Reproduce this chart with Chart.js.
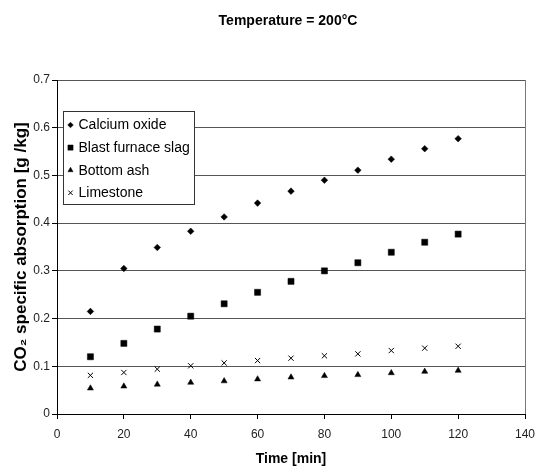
<!DOCTYPE html>
<html>
<head>
<meta charset="utf-8">
<script src="https://cdn.jsdelivr.net/npm/chart.js@4/dist/chart.umd.min.js"></script>
<style>
  html, body { margin: 0; padding: 0; background: #fff; }
  #wrap { width: 536px; height: 470px; }
</style>
</head>
<body>
<div id="wrap"><canvas id="chart"></canvas></div>
<script>
// time in minutes
const times = [10, 20, 30, 40, 50, 60, 70, 80, 90, 100, 110, 120];

// CO2 specific absorption [g/kg]
const calciumOxide = [0.215, 0.305, 0.349, 0.383, 0.413, 0.442, 0.467, 0.490, 0.511, 0.534, 0.556, 0.577];
const blastFurnaceSlag = [0.120, 0.148, 0.178, 0.205, 0.231, 0.255, 0.278, 0.300, 0.317, 0.339, 0.360, 0.377];
const bottomAsh = [0.054, 0.058, 0.062, 0.066, 0.069, 0.073, 0.077, 0.080, 0.082, 0.086, 0.089, 0.091];
const limestone = [0.081, 0.087, 0.094, 0.101, 0.107, 0.112, 0.117, 0.122, 0.126, 0.133, 0.138, 0.142];

const seriesNames = ['Calcium oxide', 'Blast furnace slag', 'Bottom ash', 'Limestone'];
const yTickLabels = ['0', '0.1', '0.2', '0.3', '0.4', '0.5', '0.6', '0.7'];
const xTickLabels = ['0', '20', '40', '60', '80', '100', '120', '140'];

const FONT = 'Arial, "Liberation Sans", sans-serif';

function pts(ys) {
  return times.map((t, i) => ({ x: t, y: ys[i] }));
}

const markers = [
  { style: 'rectRot', r: 3.3 },
  { style: 'rect', r: 4.3 },
  { style: 'triangle', r: 3.5 },
  { style: 'crossRot', r: 3.7 }
];

function makeSet(i, ys) {
  return {
    label: seriesNames[i],
    data: pts(ys),
    pointStyle: markers[i].style,
    pointRadius: markers[i].r,
    pointHoverRadius: markers[i].r,
    backgroundColor: '#000',
    borderColor: '#000',
    borderWidth: i === 3 ? 1 : 0.5,
    showLine: false
  };
}

// title + boxed legend inside the plot, like the original figure
const extras = {
  id: 'extras',
  afterDraw(chart) {
    const ctx = chart.ctx;
    const a = chart.chartArea;
    ctx.save();
    ctx.fillStyle = '#000';
    ctx.font = 'bold 14px ' + FONT;
    ctx.textAlign = 'center';
    ctx.textBaseline = 'middle';
    ctx.fillText('Temperature = 200°C', (a.left + a.right) / 2 - 3, 21);

    const bx = a.left + 6.5, by = a.top + 31.5, bw = 131, bh = 93;
    ctx.fillStyle = '#fff';
    ctx.fillRect(bx, by, bw, bh);
    ctx.strokeStyle = '#333';
    ctx.lineWidth = 1;
    ctx.strokeRect(bx, by, bw, bh);

    ctx.font = '14px ' + FONT;
    ctx.textAlign = 'left';
    chart.data.datasets.forEach((ds, i) => {
      const y = by + 13.5 + i * 22.6;
      ctx.fillStyle = '#000';
      ctx.strokeStyle = '#000';
      ctx.lineWidth = i === 3 ? 1 : 0.5;
      Chart.helpers.drawPoint(ctx, {
        pointStyle: ds.pointStyle,
        radius: ds.pointRadius * 0.85,
        rotation: 0,
        borderWidth: ctx.lineWidth
      }, bx + 7, y);
      ctx.fillStyle = '#000';
      ctx.fillText(ds.label, bx + 15, y + 0.5);
    });
    ctx.restore();
  }
};

new Chart(document.getElementById('chart'), {
  type: 'scatter',
  data: {
    datasets: [
      makeSet(0, calciumOxide),
      makeSet(1, blastFurnaceSlag),
      makeSet(2, bottomAsh),
      makeSet(3, limestone)
    ]
  },
  options: {
    responsive: true,
    maintainAspectRatio: false,
    animation: false,
    layout: { padding: { top: 80, left: 0, right: 11, bottom: 0 } },
    plugins: {
      legend: { display: false },
      title: { display: false },
      tooltip: { enabled: false }
    },
    scales: {
      x: {
        type: 'linear',
        min: 0,
        max: 140,
        ticks: {
          stepSize: 20,
          padding: 8,
          color: '#222',
          font: { family: FONT, size: 12 },
          callback: (v, i) => xTickLabels[i]
        },
        grid: {
          color: ctx => (ctx.tick && ctx.tick.value === 140 ? '#777' : 'rgba(0,0,0,0)'),
          tickColor: '#000',
          tickLength: 5,
          drawOnChartArea: true
        },
        border: { color: '#000', width: 1 },
        title: {
          display: true,
          text: 'Time [min]',
          color: '#000',
          font: { family: FONT, size: 14, weight: 'bold' },
          padding: { top: 2, bottom: 2 }
        },
        afterFit: s => {
          s.height = 56;
          s.paddingLeft = 0;
          s.paddingRight = 0;
        }
      },
      y: {
        min: 0,
        max: 0.7,
        ticks: {
          stepSize: 0.1,
          padding: 2,
          color: '#222',
          font: { family: FONT, size: 12 },
          callback: (v, i) => yTickLabels[i]
        },
        grid: {
          color: '#555',
          tickColor: '#000',
          tickLength: 5
        },
        border: { color: '#000', width: 1 },
        title: {
          display: true,
          text: 'CO₂ specific absorption [g /kg]',
          color: '#000',
          font: { family: FONT, size: 17, weight: 'bold' },
          padding: { top: 11, bottom: 4 }
        },
        afterFit: s => { s.width = 57; }
      }
    }
  },
  plugins: [extras]
});
</script>
</body>
</html>
